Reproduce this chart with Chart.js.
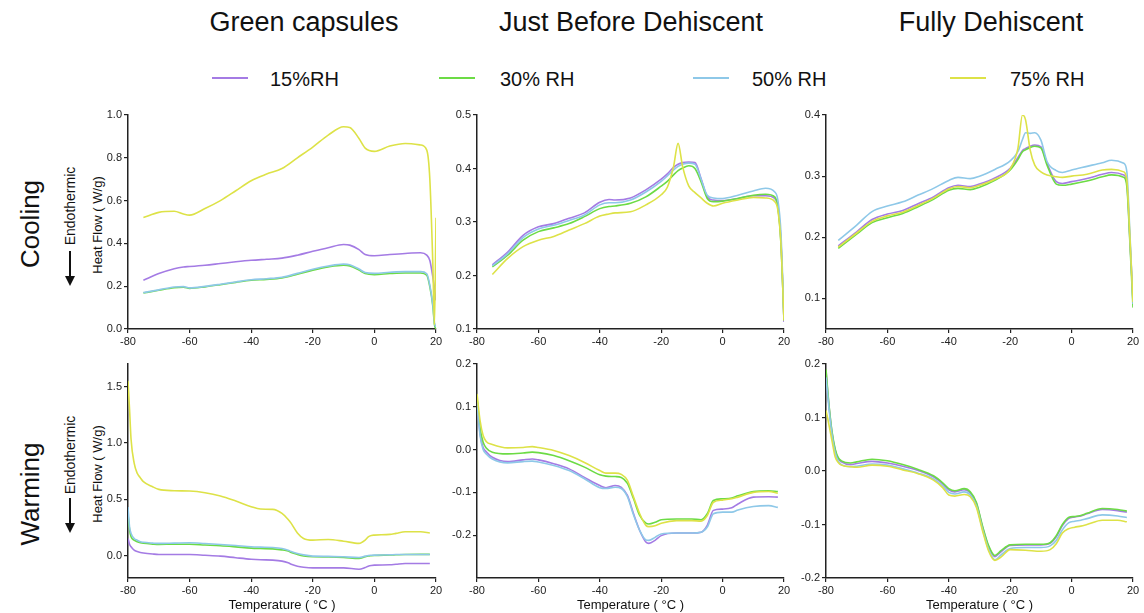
<!DOCTYPE html>
<html>
<head>
<meta charset="utf-8">
<script src="https://cdn.jsdelivr.net/npm/chart.js@4.4.1/dist/chart.umd.min.js"></script>
<style>
  body { margin: 0; background: #fff; font-family: "Liberation Sans", Arial, sans-serif; color: #111; }
  #page { position: relative; width: 1144px; height: 613px; overflow: hidden; }
  .txt { position: absolute; white-space: nowrap; line-height: 1; transform: translate(-50%, -50%); }
  .rot { transform: translate(-50%, -50%) rotate(-90deg); }
  .title { font-size: 27px; }
  .legend { font-size: 20px; transform: translate(0, -50%); }
  .legline { position: absolute; height: 2px; width: 36px; }
  canvas { position: absolute; }
</style>
</head>
<body>
<div id="page">
  <div class="txt title" style="left:304px; top:22px;">Green capsules</div>
  <div class="txt title" style="left:631px; top:22px;">Just Before Dehiscent</div>
  <div class="txt title" style="left:991px; top:22px;">Fully Dehiscent</div>

  <div class="legline" style="left:212px; top:77px; background:#a47be4;"></div>
  <div class="txt legend" style="left:270px; top:79px;">15%RH</div>
  <div class="legline" style="left:439px; top:77px; background:#6cdb45;"></div>
  <div class="txt legend" style="left:500px; top:79px;">30% RH</div>
  <div class="legline" style="left:693px; top:77px; background:#8ec8e8;"></div>
  <div class="txt legend" style="left:752px; top:79px;">50% RH</div>
  <div class="legline" style="left:950px; top:77px; background:#dde247;"></div>
  <div class="txt legend" style="left:1010px; top:79px;">75% RH</div>

  <div class="txt rot" style="left:30px; top:224px; font-size:26px;">Cooling</div>
  <div class="txt rot" style="left:30px; top:494px; font-size:26px;">Warming</div>

  <div class="txt rot" style="left:70px; top:206px; font-size:14px;">Endothermic</div>
  <div class="txt rot" style="left:97px; top:225px; font-size:13px;">Heat Flow ( W/g)</div>
  <div class="txt rot" style="left:70px; top:455px; font-size:14px;">Endothermic</div>
  <div class="txt rot" style="left:97px; top:474px; font-size:13px;">Heat Flow ( W/g)</div>

  <svg style="position:absolute; left:0; top:0;" width="140" height="613">
    <line x1="70" y1="251" x2="70" y2="277" stroke="#111" stroke-width="2"/>
    <polygon points="65,276 75,276 70,286" fill="#111"/>
    <line x1="70" y1="498" x2="70" y2="524" stroke="#111" stroke-width="2"/>
    <polygon points="65,523 75,523 70,533" fill="#111"/>
  </svg>

  <canvas id="c1" width="363" height="246" style="left:83px; top:105px;"></canvas>
  <canvas id="c2" width="362" height="246" style="left:432px; top:105px;"></canvas>
  <canvas id="c3" width="362" height="246" style="left:781px; top:105px;"></canvas>
  <canvas id="c4" width="363" height="259" style="left:83px; top:354px;"></canvas>
  <canvas id="c5" width="362" height="259" style="left:432px; top:354px;"></canvas>
  <canvas id="c6" width="362" height="259" style="left:781px; top:354px;"></canvas>
</div>

<script>
// ---- data (temperature in °C, heat flow in W/g) ----
const xTicks = [-80, -60, -40, -20, 0, 20];

// Cooling - Green capsules
const coolGreenT = [-75, -70, -65, -62, -60, -55, -50, -45, -40, -35, -30, -25, -20, -15, -10, -8, -5, -3, 0, 5, 10, 15, 17, 18, 19, 19.5, 20];
const coolGreen15 = [0.228, 0.259, 0.282, 0.29, 0.292, 0.298, 0.306, 0.314, 0.321, 0.326, 0.331, 0.345, 0.363, 0.38, 0.395, 0.392, 0.371, 0.348, 0.342, 0.348, 0.353, 0.356, 0.345, 0.32, 0.24, 0.19, 0.134];
const coolGreen30 = [0.168, 0.181, 0.193, 0.195, 0.19, 0.197, 0.207, 0.218, 0.228, 0.232, 0.239, 0.256, 0.275, 0.29, 0.298, 0.295, 0.275, 0.259, 0.254, 0.259, 0.262, 0.262, 0.251, 0.197, 0.103, 0.02, 0.0];
const coolGreen50 = [0.17, 0.183, 0.196, 0.198, 0.192, 0.199, 0.209, 0.22, 0.23, 0.235, 0.242, 0.26, 0.279, 0.294, 0.303, 0.3, 0.28, 0.264, 0.26, 0.265, 0.268, 0.268, 0.258, 0.205, 0.11, 0.03, 0.01];
const coolGreen75 = [0.521, 0.545, 0.55, 0.537, 0.532, 0.563, 0.60, 0.646, 0.693, 0.724, 0.75, 0.80, 0.85, 0.906, 0.945, 0.942, 0.89, 0.845, 0.83, 0.855, 0.867, 0.86, 0.836, 0.70, 0.29, 0.02, 0.52];
const coolGreenTicks = [0.0, 0.2, 0.4, 0.6, 0.8, 1.0];

// Cooling - Just Before Dehiscent
const coolJustT = [-75, -70, -65, -60, -55, -50, -45, -40, -37, -35, -30, -25, -20, -18, -16, -14.5, -13, -11, -9, -7, -5, -3, 0, 5, 10, 14, 17, 18, 19, 20];
const coolJust15 = [0.22, 0.244, 0.275, 0.291, 0.297, 0.307, 0.317, 0.337, 0.342, 0.341, 0.345, 0.36, 0.38, 0.39, 0.402, 0.408, 0.411, 0.412, 0.411, 0.381, 0.347, 0.341, 0.34, 0.344, 0.349, 0.349, 0.344, 0.328, 0.266, 0.113];
const coolJust30 = [0.216, 0.238, 0.266, 0.282, 0.289, 0.297, 0.31, 0.325, 0.329, 0.33, 0.335, 0.347, 0.367, 0.376, 0.388, 0.396, 0.401, 0.405, 0.40, 0.375, 0.344, 0.338, 0.339, 0.344, 0.35, 0.352, 0.347, 0.328, 0.26, 0.116];
const coolJust50 = [0.218, 0.241, 0.271, 0.287, 0.294, 0.303, 0.313, 0.332, 0.336, 0.336, 0.341, 0.356, 0.376, 0.386, 0.397, 0.404, 0.408, 0.41, 0.408, 0.38, 0.35, 0.345, 0.344, 0.35, 0.358, 0.363, 0.356, 0.341, 0.28, 0.12];
const coolJust75 = [0.202, 0.232, 0.254, 0.266, 0.273, 0.285, 0.297, 0.311, 0.315, 0.317, 0.319, 0.332, 0.351, 0.365, 0.403, 0.447, 0.403, 0.367, 0.355, 0.345, 0.335, 0.33, 0.335, 0.341, 0.346, 0.345, 0.338, 0.322, 0.26, 0.116];
const coolJustTicks = [0.1, 0.2, 0.3, 0.4, 0.5];

// Cooling - Fully Dehiscent
const coolFullT = [-76, -70, -65, -60, -55, -50, -45, -40, -37, -33, -30, -25, -20, -17.5, -16, -15, -13.5, -12, -10, -8, -5, -3, 0, 5, 10, 13, 17, 18, 19, 20];
const coolFull15 = [0.186, 0.209, 0.229, 0.238, 0.244, 0.255, 0.266, 0.281, 0.285, 0.283, 0.287, 0.297, 0.313, 0.33, 0.342, 0.345, 0.349, 0.351, 0.348, 0.321, 0.291, 0.288, 0.291, 0.296, 0.303, 0.306, 0.302, 0.288, 0.195, 0.097];
const coolFull30 = [0.182, 0.205, 0.224, 0.232, 0.239, 0.25, 0.262, 0.277, 0.28, 0.278, 0.282, 0.293, 0.31, 0.327, 0.34, 0.343, 0.347, 0.349, 0.346, 0.318, 0.287, 0.285, 0.287, 0.292, 0.299, 0.302, 0.298, 0.283, 0.19, 0.085];
const coolFull50 = [0.195, 0.22, 0.242, 0.251, 0.258, 0.269, 0.28, 0.293, 0.298, 0.296, 0.30, 0.311, 0.325, 0.34, 0.36, 0.371, 0.37, 0.371, 0.359, 0.324, 0.309, 0.306, 0.31, 0.316, 0.322, 0.326, 0.321, 0.307, 0.206, 0.091];
const coolFull75 = [0.184, 0.207, 0.226, 0.235, 0.241, 0.252, 0.264, 0.279, 0.283, 0.281, 0.285, 0.295, 0.312, 0.345, 0.40, 0.392, 0.343, 0.318, 0.307, 0.302, 0.299, 0.298, 0.30, 0.303, 0.31, 0.311, 0.307, 0.293, 0.2, 0.094];
const coolFullTicks = [0.1, 0.2, 0.3, 0.4];

// Warming - Green capsules
const warmGreenT = [-80, -79.5, -79, -78, -77, -76, -75, -72, -70, -65, -60, -55, -50, -45, -40, -37, -33, -30, -28, -27, -25, -23, -20, -15, -10, -5, -3, -2, -1, 0, 5, 7, 10, 15, 18];
const warmGreen15 = [0.151, 0.1, 0.077, 0.047, 0.035, 0.027, 0.022, 0.013, 0.009, 0.009, 0.009, 0.002, -0.006, -0.02, -0.033, -0.038, -0.041, -0.05, -0.065, -0.078, -0.095, -0.104, -0.11, -0.11, -0.11, -0.122, -0.107, -0.095, -0.089, -0.086, -0.083, -0.078, -0.071, -0.071, -0.071];
const warmGreen30 = [0.37, 0.23, 0.166, 0.136, 0.122, 0.113, 0.108, 0.101, 0.098, 0.10, 0.10, 0.093, 0.086, 0.076, 0.065, 0.062, 0.059, 0.05, 0.039, 0.026, 0.009, -0.004, -0.012, -0.014, -0.018, -0.027, -0.012, -0.005, -0.002, 0.0, 0.004, 0.006, 0.009, 0.01, 0.01];
const warmGreen50 = [0.43, 0.255, 0.196, 0.151, 0.135, 0.122, 0.117, 0.11, 0.107, 0.11, 0.113, 0.106, 0.098, 0.088, 0.077, 0.074, 0.071, 0.062, 0.047, 0.035, 0.018, 0.005, -0.006, -0.008, -0.012, -0.018, -0.006, 0.0, 0.002, 0.003, 0.006, 0.008, 0.009, 0.009, 0.009];
const warmGreen75 = [1.55, 1.3, 1.03, 0.82, 0.73, 0.69, 0.655, 0.61, 0.587, 0.575, 0.572, 0.557, 0.528, 0.483, 0.433, 0.412, 0.409, 0.373, 0.32, 0.285, 0.20, 0.151, 0.136, 0.142, 0.127, 0.107, 0.136, 0.166, 0.178, 0.181, 0.187, 0.196, 0.21, 0.21, 0.20];
const warmGreenTicks = [0.0, 0.5, 1.0, 1.5];

// Warming - Just Before Dehiscent
const warmJustT = [-80, -79, -78, -77, -75, -70, -65, -62, -60, -55, -50, -45, -40, -38, -35, -33, -31, -29, -27, -25, -24, -22, -20, -15, -10, -7, -5, -3, 0, 3, 5, 10, 15, 18];
const warmJust15 = [0.118, 0.037, 0.005, -0.005, -0.018, -0.028, -0.024, -0.022, -0.024, -0.033, -0.045, -0.065, -0.084, -0.089, -0.084, -0.088, -0.107, -0.15, -0.189, -0.216, -0.219, -0.212, -0.201, -0.195, -0.195, -0.193, -0.177, -0.142, -0.139, -0.136, -0.127, -0.111, -0.11, -0.111];
const warmJust30 = [0.122, 0.05, 0.017, 0.004, -0.006, -0.01, -0.008, -0.006, -0.007, -0.014, -0.026, -0.041, -0.059, -0.062, -0.063, -0.065, -0.079, -0.115, -0.154, -0.172, -0.174, -0.17, -0.164, -0.162, -0.162, -0.164, -0.15, -0.119, -0.115, -0.113, -0.108, -0.098, -0.096, -0.098];
const warmJust50 = [0.115, 0.033, 0.0, -0.01, -0.022, -0.031, -0.028, -0.027, -0.029, -0.037, -0.049, -0.068, -0.089, -0.091, -0.088, -0.091, -0.11, -0.153, -0.189, -0.211, -0.212, -0.205, -0.197, -0.195, -0.195, -0.193, -0.181, -0.15, -0.146, -0.146, -0.141, -0.133, -0.131, -0.135];
const warmJust75 = [0.13, 0.068, 0.033, 0.019, 0.012, 0.004, 0.005, 0.007, 0.005, -0.002, -0.014, -0.03, -0.049, -0.055, -0.055, -0.058, -0.072, -0.111, -0.15, -0.177, -0.18, -0.178, -0.172, -0.166, -0.166, -0.167, -0.154, -0.123, -0.118, -0.115, -0.111, -0.10, -0.098, -0.102];
const warmJustTicks = [-0.2, -0.1, 0.0, 0.1, 0.2];

// Warming - Fully Dehiscent
const warmFullT = [-80, -79.5, -79, -78, -77, -76, -75, -72, -70, -65, -60, -55, -50, -45, -42, -40, -38, -35, -33, -31, -29, -27, -25, -23, -20, -15, -10, -7, -5, -3, -1, 1, 3, 5, 10, 15, 18];
const warmFull15 = [0.188, 0.151, 0.12, 0.07, 0.039, 0.023, 0.017, 0.012, 0.014, 0.018, 0.015, 0.009, 0.001, -0.011, -0.024, -0.035, -0.039, -0.035, -0.041, -0.061, -0.105, -0.142, -0.16, -0.151, -0.139, -0.138, -0.138, -0.135, -0.123, -0.102, -0.089, -0.086, -0.084, -0.08, -0.072, -0.074, -0.077];
const warmFull30 = [0.19, 0.155, 0.122, 0.072, 0.041, 0.025, 0.019, 0.015, 0.017, 0.022, 0.019, 0.012, 0.003, -0.009, -0.022, -0.033, -0.037, -0.033, -0.039, -0.059, -0.103, -0.14, -0.158, -0.149, -0.138, -0.137, -0.137, -0.134, -0.121, -0.10, -0.087, -0.085, -0.083, -0.079, -0.07, -0.072, -0.075];
const warmFull50 = [0.175, 0.145, 0.115, 0.066, 0.034, 0.018, 0.012, 0.008, 0.009, 0.013, 0.011, 0.004, -0.004, -0.015, -0.028, -0.04, -0.043, -0.039, -0.045, -0.065, -0.109, -0.147, -0.166, -0.157, -0.145, -0.143, -0.143, -0.14, -0.13, -0.11, -0.097, -0.094, -0.092, -0.089, -0.082, -0.084, -0.087];
const warmFull75 = [0.113, 0.10, 0.085, 0.055, 0.026, 0.016, 0.011, 0.008, 0.007, 0.011, 0.009, 0.002, -0.005, -0.017, -0.031, -0.045, -0.047, -0.044, -0.048, -0.068, -0.112, -0.15, -0.167, -0.161, -0.147, -0.148, -0.15, -0.147, -0.136, -0.116, -0.108, -0.105, -0.103, -0.10, -0.092, -0.092, -0.095];
const warmFullTicks = [-0.2, -0.1, 0.0, 0.1, 0.2];

const colors = { rh15: '#a47be4', rh30: '#6cdb45', rh50: '#8ec8e8', rh75: '#dde247' };
const fontFamily = "'Liberation Sans', Arial, sans-serif";

function toPoints(temps, vals) {
    return temps.map((t, i) => ({ x: t, y: vals[i] }));
}

function makePanel(id, temps, s15, s30, s50, s75, yMin, yMax, yTicks, bottomRow) {
    const ctx = document.getElementById(id);
    new Chart(ctx, {
        type: 'line',
        data: {
            datasets: [
                { label: '75% RH', data: toPoints(temps, s75), borderColor: colors.rh75 },
                { label: '50% RH', data: toPoints(temps, s50), borderColor: colors.rh50 },
                { label: '30% RH', data: toPoints(temps, s30), borderColor: colors.rh30 },
                { label: '15%RH', data: toPoints(temps, s15), borderColor: colors.rh15 }
            ]
        },
        options: {
            responsive: false,
            animation: false,
            layout: { padding: { top: 10, right: 10, left: 0, bottom: 0 } },
            plugins: { legend: { display: false }, tooltip: { enabled: false } },
            elements: {
                point: { radius: 0 },
                line: { borderWidth: 1.6, cubicInterpolationMode: 'monotone', fill: false }
            },
            scales: {
                x: {
                    type: 'linear',
                    min: -80,
                    max: 20,
                    afterBuildTicks: s => { s.ticks = xTicks.map(v => ({ value: v })); },
                    afterFit: s => { s.height = bottomRow ? 35 : 22; },
                    grid: { drawOnChartArea: false, tickLength: 4, color: '#222', lineWidth: 1.2 },
                    border: { color: '#222', width: 1.5 },
                    ticks: {
                        padding: 2, color: '#222', maxRotation: 0, autoSkip: false,
                        font: { size: 11, family: fontFamily },
                        callback: v => String(v)
                    },
                    title: {
                        display: bottomRow,
                        text: 'Temperature ( °C )',
                        color: '#111',
                        font: { size: 13, family: fontFamily },
                        padding: { top: 0, bottom: 0 }
                    }
                },
                y: {
                    min: yMin,
                    max: yMax,
                    afterBuildTicks: s => { s.ticks = yTicks.map(v => ({ value: v })); },
                    afterFit: s => { s.width = 45; },
                    grid: { drawOnChartArea: false, tickLength: 4, color: '#222', lineWidth: 1.2 },
                    border: { color: '#222', width: 1.5 },
                    ticks: {
                        padding: 2, color: '#222',
                        font: { size: 11, family: fontFamily },
                        callback: v => Number(v).toFixed(1)
                    }
                }
            }
        }
    });
}

makePanel('c1', coolGreenT, coolGreen15, coolGreen30, coolGreen50, coolGreen75, 0, 1.0, coolGreenTicks, false);
makePanel('c2', coolJustT, coolJust15, coolJust30, coolJust50, coolJust75, 0.1, 0.5, coolJustTicks, false);
makePanel('c3', coolFullT, coolFull15, coolFull30, coolFull50, coolFull75, 0.05, 0.4, coolFullTicks, false);
makePanel('c4', warmGreenT, warmGreen15, warmGreen30, warmGreen50, warmGreen75, -0.2, 1.7, warmGreenTicks, true);
makePanel('c5', warmJustT, warmJust15, warmJust30, warmJust50, warmJust75, -0.3, 0.2, warmJustTicks, true);
makePanel('c6', warmFullT, warmFull15, warmFull30, warmFull50, warmFull75, -0.2, 0.2, warmFullTicks, true);
</script>
</body>
</html>
